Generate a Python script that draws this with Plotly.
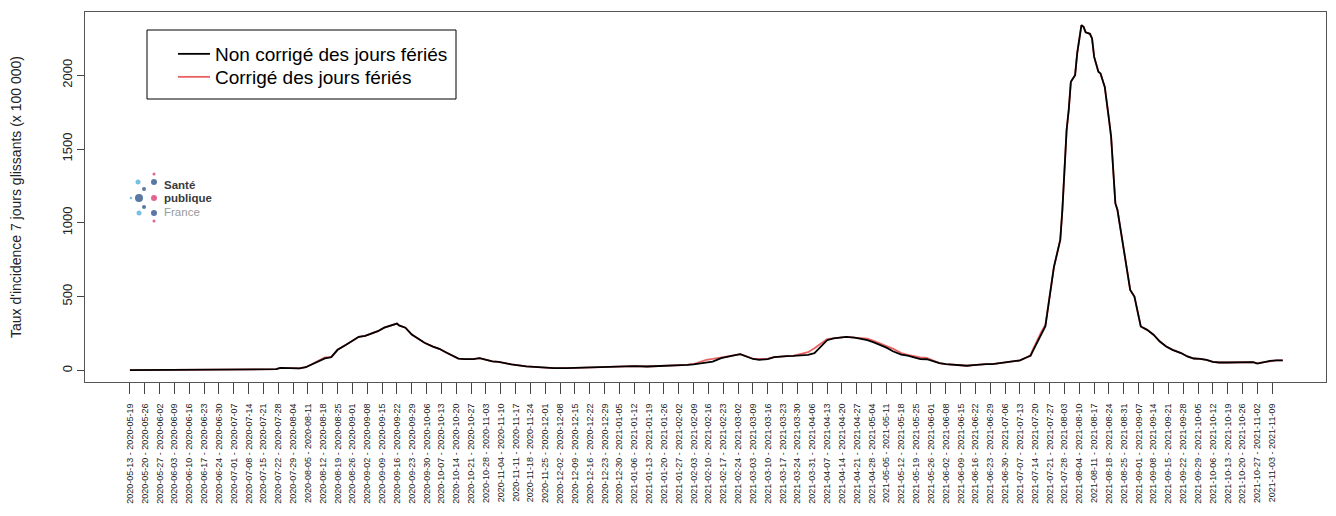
import pandas as pd
import plotly.graph_objects as go

# ---- data ----
dates = [
    "2020-05-19", "2020-06-02", "2020-06-16", "2020-06-30", "2020-07-14", "2020-07-24", "2020-07-27",
    "2020-07-29", "2020-08-03", "2020-08-05", "2020-08-07", "2020-08-10", "2020-08-14", "2020-08-19",
    "2020-08-22", "2020-08-25", "2020-08-29", "2020-09-01", "2020-09-04", "2020-09-07", "2020-09-10",
    "2020-09-13", "2020-09-16", "2020-09-20", "2020-09-22", "2020-09-23", "2020-09-26", "2020-09-29",
    "2020-10-02", "2020-10-05", "2020-10-09", "2020-10-12", "2020-10-15", "2020-10-18", "2020-10-21",
    "2020-10-24", "2020-10-28", "2020-10-31", "2020-11-03", "2020-11-06", "2020-11-09", "2020-11-12",
    "2020-11-15", "2020-11-22", "2020-11-28", "2020-12-05", "2020-12-11", "2020-12-17", "2020-12-24",
    "2020-12-30", "2021-01-05", "2021-01-12", "2021-01-18", "2021-01-24", "2021-01-30", "2021-02-06",
    "2021-02-09", "2021-02-12", "2021-02-15", "2021-02-18", "2021-02-22", "2021-02-25", "2021-02-28",
    "2021-03-03", "2021-03-06", "2021-03-09", "2021-03-12", "2021-03-16", "2021-03-19", "2021-03-22",
    "2021-03-25", "2021-03-28", "2021-03-31", "2021-04-04", "2021-04-07", "2021-04-10", "2021-04-13",
    "2021-04-16", "2021-04-19", "2021-04-22", "2021-04-26", "2021-04-29", "2021-05-02", "2021-05-05",
    "2021-05-08", "2021-05-11", "2021-05-14", "2021-05-18", "2021-05-21", "2021-05-24", "2021-05-27",
    "2021-05-30", "2021-06-02", "2021-06-05", "2021-06-08", "2021-06-12", "2021-06-15", "2021-06-18",
    "2021-06-21", "2021-06-24", "2021-06-27", "2021-06-30", "2021-07-04", "2021-07-07", "2021-07-10",
    "2021-07-13", "2021-07-16", "2021-07-18", "2021-07-19", "2021-07-21", "2021-07-23", "2021-07-25",
    "2021-07-27", "2021-07-29", "2021-08-01", "2021-08-02", "2021-08-04", "2021-08-05", "2021-08-06",
    "2021-08-08", "2021-08-09", "2021-08-10", "2021-08-11", "2021-08-12", "2021-08-13", "2021-08-15",
    "2021-08-16", "2021-08-17", "2021-08-19", "2021-08-20", "2021-08-22", "2021-08-24", "2021-08-25",
    "2021-08-27", "2021-08-28", "2021-08-31", "2021-09-03", "2021-09-05", "2021-09-08", "2021-09-11",
    "2021-09-14", "2021-09-17", "2021-09-20", "2021-09-23", "2021-09-27", "2021-09-30", "2021-10-03",
    "2021-10-06", "2021-10-09", "2021-10-12", "2021-10-15", "2021-10-19", "2021-10-22", "2021-10-25",
    "2021-10-28", "2021-10-31", "2021-11-02", "2021-11-05", "2021-11-08", "2021-11-11", "2021-11-14",
]

non_corrige = [
    2, 3, 4, 5, 6, 8, 9,
    18, 17, 12, 14, 22, 48, 82,
    90, 140, 174, 201, 228, 235, 252,
    266, 290, 308, 318, 305, 290, 243,
    218, 188, 162, 147, 124, 102, 80,
    77, 77, 84, 72, 62, 58, 48,
    41, 28, 21, 16, 16, 19, 22,
    25, 28, 29, 27, 29, 32, 38,
    42, 48, 50, 60, 84, 95, 102,
    110, 96, 78, 72, 77, 90, 95,
    97, 99, 104, 106, 117, 162, 205,
    218, 222, 228, 222, 215, 205, 190,
    174, 155, 130, 108, 100, 88, 77,
    76, 62, 50, 43, 38, 34, 32,
    36, 42, 43, 43, 50, 54, 59,
    68, 88, 100, 130, 185, 240, 300,
    500, 700, 884, 1087, 1628, 1764, 1955,
    2000, 2150, 2250, 2339, 2327, 2290, 2280,
    2249, 2124, 2023, 2012, 1921, 1700, 1583,
    1133, 1087, 817, 546, 501, 298, 275,
    242, 196, 162, 140, 118, 95, 81,
    79, 72, 59, 54, 54, 54, 54,
    59, 56, 47, 56, 65, 68, 68,
]

corrige = [
    2, 3, 4, 5, 6, 8, 9,
    18, 17, 12, 14, 22, 50, 88,
    90, 140, 174, 201, 228, 235, 252,
    266, 290, 308, 318, 305, 290, 243,
    218, 188, 162, 147, 124, 102, 80,
    77, 77, 84, 72, 62, 58, 48,
    41, 28, 21, 16, 16, 19, 22,
    25, 28, 29, 27, 29, 32, 38,
    44, 60, 72, 78, 86, 95, 102,
    110, 96, 80, 78, 80, 90, 95,
    97, 99, 110, 124, 150, 180, 212,
    218, 222, 228, 222, 218, 215, 200,
    185, 165, 148, 118, 105, 96, 88,
    85, 66, 50, 43, 38, 34, 32,
    36, 42, 43, 43, 50, 54, 59,
    68, 88, 105, 140, 205, 260, 310,
    500, 700, 884, 1087, 1628, 1764, 1955,
    2000, 2150, 2250, 2339, 2327, 2290, 2280,
    2249, 2124, 2023, 2012, 1921, 1700, 1583,
    1133, 1087, 817, 546, 501, 298, 275,
    242, 196, 162, 140, 118, 95, 81,
    79, 72, 59, 54, 54, 54, 54,
    59, 56, 50, 56, 65, 68, 68,
]

series_names = ["Non corrigé des jours fériés", "Corrigé des jours fériés"]
y_ticks = [0, 500, 1000, 1500, 2000]

first_week_end = "2020-05-19"
last_week_end = "2021-11-09"
week_ends = pd.date_range(first_week_end, last_week_end, freq="7D")
x_tick_vals = [d.strftime("%Y-%m-%d") for d in week_ends]
x_tick_text = [f"{(d - pd.Timedelta(days=6)):%Y-%m-%d} - {d:%Y-%m-%d}" for d in week_ends]

# ---- layout geometry (page has an 8px body margin) ----
OFF = 8
W, H = 1320, 500
PL, PR, PT, PB = 85, 1326, 12, 382          # plot area in window pixels
L, T = PL - OFF, PT - OFF
R = (OFF + W) - PR
B = (OFF + H) - PB
t0 = pd.Timestamp(first_week_end)
x_range = [(t0 + pd.Timedelta(days=-21.2)).strftime("%Y-%m-%d %H:%M:%S"),
           (t0 + pd.Timedelta(days=564.4)).strftime("%Y-%m-%d %H:%M:%S")]

fig = go.Figure()
fig.add_trace(go.Scatter(x=dates, y=corrige, mode="lines", name=series_names[1],
                         line=dict(color="rgba(228,70,70,0.85)", width=1.8), legend="legend2"))
fig.add_trace(go.Scatter(x=dates, y=non_corrige, mode="lines", name=series_names[0],
                         line=dict(color="black", width=1.8), legend="legend"))

# logo (Santé publique France) drawn on a pixel-like overlay axis
logo_x = [154, 138, 154, 144, 131, 139, 154, 144, 139, 154, 154]
logo_y = [174, 182, 182, 189, 198, 198, 198, 207, 213, 213, 221]
logo_s = [3, 5, 6, 4, 2.5, 8, 6, 4, 5, 6, 3]
dark, light, pink = "#123f7c", "#3fa6d6", "#d6245e"
logo_c = [pink, light, dark, dark, light, dark, pink, dark, light, dark, pink]
fig.add_trace(go.Scatter(x=logo_x, y=logo_y, mode="markers", xaxis="x2", yaxis="y2",
                         marker=dict(size=logo_s, color=logo_c, line=dict(width=0)),
                         showlegend=False, hoverinfo="skip"))
for txt, yy, col, bold in [("Santé", 185, "#3a3a3a", True), ("publique", 198, "#3a3a3a", True),
                           ("France", 212, "#9a9a9a", False)]:
    fig.add_annotation(x=162, y=yy, xref="x2", yref="y2", text=f"<b>{txt}</b>" if bold else txt,
                       showarrow=False, xanchor="left", yanchor="middle",
                       font=dict(family="Liberation Sans", size=11.5, color=col))

def px_x(p):
    return (p - PL) / (PR - PL)

def px_y(p):
    return (PB - p) / (PB - PT)

# legend frame
fig.add_shape(type="rect", xref="paper", yref="paper",
              x0=px_x(147), x1=px_x(456), y0=px_y(99), y1=px_y(30),
              line=dict(color="black", width=1), fillcolor="white", layer="below")

legend_common = dict(xanchor="left", yanchor="top", bgcolor="rgba(0,0,0,0)", borderwidth=0,
                     font=dict(size=19, color="black"), itemwidth=32)

fig.update_layout(
    width=W, height=H,
    margin=dict(l=L, r=R, t=T, b=B, pad=0),
    paper_bgcolor="white", plot_bgcolor="white",
    font=dict(family="Liberation Sans", color="black"),
    showlegend=True,
    legend=dict(x=px_x(173), y=px_y(35), **legend_common),
    legend2=dict(x=px_x(173), y=px_y(58), **legend_common),
    xaxis=dict(type="date", range=x_range, tickmode="array", tickvals=x_tick_vals,
               ticktext=x_tick_text, tickangle=-90, tickfont=dict(size=9, color="#222"),
               ticks="outside", ticklen=11, tickcolor="#444", ticklabelstandoff=6,
               showgrid=False, zeroline=False,
               showline=True, linecolor="#555", linewidth=1, mirror=True, automargin=False),
    yaxis=dict(range=[-78, 2428], tickmode="array", tickvals=y_ticks,
               ticktext=[str(v) for v in y_ticks], tickangle=-90,
               tickfont=dict(size=13, color="#222"), ticks="outside", ticklen=7, tickcolor="#444",
               showgrid=False, zeroline=False, showline=True, linecolor="#555", linewidth=1,
               mirror=True, automargin=False,
               title=dict(text="Taux d'incidence 7 jours glissants (x 100 000)",
                          font=dict(size=14, color="#222"), standoff=34)),
    xaxis2=dict(overlaying="x", anchor="y2", range=[PL, PR], visible=False, fixedrange=True),
    yaxis2=dict(overlaying="y", anchor="x2", range=[PB, PT], visible=False, fixedrange=True),
)

fig.write_html("out.html")
